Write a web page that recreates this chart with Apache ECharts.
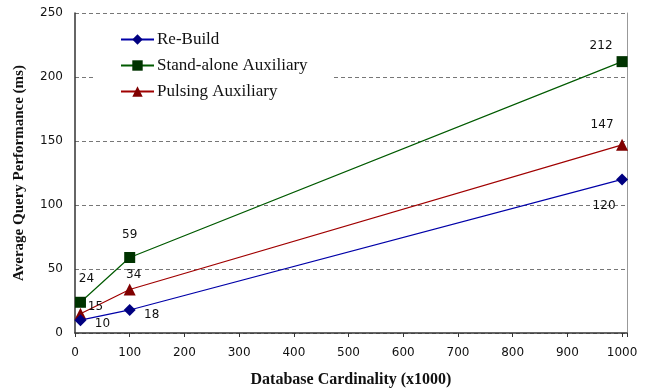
<!DOCTYPE html>
<html lang="en">
<head>
    <meta charset="UTF-8">
    <title>Average Query Performance</title>
    <style>
        * { margin: 0; padding: 0; }
        body { background: #fff; }
        #chart { width: 645px; height: 390px; }
    </style>
</head>
<body>
    <div id="chart"></div>
    <script src="https://cdn.jsdelivr.net/npm/echarts@6/dist/echarts.min.js"></script>
    <script>
        // data
        const cardinality = [10, 100, 1000];
        const reBuild = [10, 18, 120];
        const standAlone = [24, 59, 212];
        const pulsing = [15, 34, 147];
        const seriesNames = ['Re-Build', 'Stand-alone Auxiliary', 'Pulsing Auxiliary'];
        const yTicks = [0, 50, 100, 150, 200, 250];

        // where each value label sits relative to its point [dx, dy]
        const labelOffsets = {
            rebuild: [[22, 4], [22, 5], [-18, 26]],
            standalone: [[6, -23], [0, -23], [-21, -16]],
            pulsing: [[15, -7], [4, -15], [-20, -20]]
        };

        function points(values, offsets) {
            return values.map((v, i) => ({
                value: [cardinality[i], v],
                label: { offset: offsets[i] }
            }));
        }

        const labelStyle = {
            show: true,
            position: 'inside',
            fontFamily: 'DejaVu Sans',
            fontSize: 12,
            color: '#111',
            formatter: p => p.value[1]
        };

        const chart = echarts.init(document.getElementById('chart'));
        chart.setOption({
            animation: false,
            textStyle: { fontFamily: 'Liberation Serif' },
            grid: { left: 75, right: 18, top: 13, bottom: 57, outerBoundsMode: 'none', containLabel: false },
            legend: {
                data: seriesNames,
                orient: 'vertical',
                left: 95,
                top: 28,
                padding: [3, 24, 6, 25],
                itemGap: 9,
                itemWidth: 33,
                itemHeight: 13,
                backgroundColor: '#fff',
                textStyle: { fontFamily: 'Liberation Serif', fontSize: 17, color: '#111', padding: [0, 0, 0, -2] }
            },
            xAxis: {
                type: 'value',
                min: 0,
                max: 1009,
                interval: 100,
                name: 'Database Cardinality (x1000)',
                nameLocation: 'middle',
                nameGap: 39,
                nameTextStyle: { fontFamily: 'Liberation Serif', fontWeight: 'bold', fontSize: 16, color: '#111' },
                axisLine: { lineStyle: { color: '#333', width: 1.5 } },
                axisTick: { show: true, length: 4, lineStyle: { color: '#333' } },
                axisLabel: {
                    fontFamily: 'DejaVu Sans', fontSize: 12, color: '#111', margin: 14,
                    formatter: v => (v % 100 === 0 ? v : '')
                },
                splitLine: { show: false }
            },
            yAxis: [{
                type: 'value',
                min: yTicks[0],
                max: yTicks[yTicks.length - 1],
                interval: 50,
                name: 'Average Query Performance (ms)',
                nameLocation: 'middle',
                nameGap: 48,
                nameTextStyle: { fontFamily: 'Liberation Serif', fontWeight: 'bold', fontSize: 15, color: '#111' },
                axisLine: { show: true, lineStyle: { color: '#333', width: 1.5 } },
                axisTick: { show: false },
                axisLabel: { fontFamily: 'DejaVu Sans', fontSize: 12, color: '#111', margin: 12 },
                splitLine: { show: true, lineStyle: { color: '#777', type: [4, 3], width: 1 } }
            }, {
                type: 'value',
                position: 'right',
                min: 0,
                max: 250,
                axisLine: { show: true, lineStyle: { color: '#999', width: 1 } },
                axisTick: { show: false },
                axisLabel: { show: false },
                splitLine: { show: false }
            }],
            series: [{
                name: seriesNames[0],
                type: 'line',
                data: points(reBuild, labelOffsets.rebuild),
                symbol: 'diamond',
                symbolSize: 12,
                z: 4,
                lineStyle: { color: '#0000a8', width: 1.2 },
                itemStyle: { color: '#000080' },
                label: labelStyle
            }, {
                name: seriesNames[1],
                type: 'line',
                data: points(standAlone, labelOffsets.standalone),
                symbol: 'rect',
                symbolSize: 11,
                z: 3,
                lineStyle: { color: '#005a00', width: 1.2 },
                itemStyle: { color: '#003300' },
                label: labelStyle
            }, {
                name: seriesNames[2],
                type: 'line',
                data: points(pulsing, labelOffsets.pulsing),
                symbol: 'triangle',
                symbolSize: 12,
                z: 3,
                lineStyle: { color: '#a00000', width: 1.2 },
                itemStyle: { color: '#800000' },
                label: labelStyle
            }]
        });
    </script>
</body>
</html>
